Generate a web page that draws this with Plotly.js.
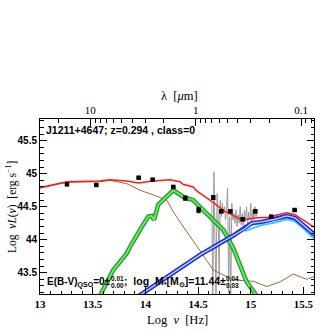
<!DOCTYPE html>
<html><head><meta charset="utf-8">
<script src="https://cdn.plot.ly/plotly-3.0.1.min.js"></script>
<style>html,body{margin:0;padding:0;background:#fff}#chart{width:332px;height:332px}</style>
</head><body><div id="chart"></div>
<script>
// Photometry (rest-frame log nu, log nuL)
const photNu  = [13.256, 13.534, 13.936, 14.069, 14.265, 14.379, 14.505, 14.644, 14.720, 14.806, 14.923, 15.043, 15.195, 15.416];
const photL   = [44.84, 44.83, 44.94, 44.91, 44.80, 44.63, 44.45, 44.64, 44.43, 44.43, 44.31, 44.43, 44.35, 44.45];
const photErr = [0.01, 0.01, 0.01, 0.01, 0.01, 0.03, 0.04, 0.03, 0.02, 0.02, 0.02, 0.02, 0.01, 0.01];

// Total model (red)
const totNu = [13.000, 13.256, 13.569, 13.664, 13.823, 13.936, 14.072, 14.233, 14.328, 14.357, 14.454, 14.487, 14.613, 14.755, 14.831, 14.913, 15.040, 15.166, 15.261, 15.341, 15.419, 15.514, 15.609];
const totL  = [44.79, 44.88, 44.89, 44.91, 44.89, 44.86, 44.89, 44.91, 44.88, 44.84, 44.80, 44.74, 44.60, 44.43, 44.37, 44.30, 44.33, 44.34, 44.38, 44.41, 44.38, 44.28, 44.18];

// Torus / other component (brown)
const torNu = [13.000, 13.256, 13.569, 13.664, 13.823, 13.949, 14.075, 14.202, 14.265, 14.360, 14.487, 14.582, 14.644, 14.834, 15.024, 15.151, 15.277, 15.403, 15.530, 15.600];
const torL  = [44.78, 44.87, 44.88, 44.90, 44.85, 44.75, 44.68, 44.60, 44.42, 44.20, 43.89, 43.69, 43.54, 43.39, 43.37, 43.29, 43.36, 43.48, 43.40, 43.44];

// Host galaxy (green)
const galNu = [13.569, 13.664, 13.695, 13.823, 13.854, 13.949, 14.027, 14.060, 14.082, 14.122, 14.170, 14.233, 14.265, 14.360, 14.454, 14.549, 14.644, 14.739, 14.834, 14.898, 14.961, 15.056];
const galL  = [43.15, 43.44, 43.54, 43.79, 43.89, 44.15, 44.35, 44.36, 44.30, 44.53, 44.61, 44.70, 44.75, 44.65, 44.60, 44.45, 44.30, 44.15, 43.87, 43.62, 43.36, 43.15];

// QSO disk (blue) and its lower envelope (cyan)
const qsoNu = [13.930, 14.297, 14.518, 14.831, 14.945, 15.009, 15.103, 15.230, 15.341, 15.419, 15.514, 15.609];
const qsoL  = [43.14, 43.53, 43.77, 44.06, 44.17, 44.25, 44.27, 44.31, 44.36, 44.33, 44.20, 44.07];
const qsoLoNu = [14.945, 15.103, 15.230, 15.341, 15.419, 15.514, 15.609];
const qsoLoL  = [44.13, 44.22, 44.26, 44.31, 44.28, 44.15, 44.00];

// Spectrum (gray)
const specNu = [14.63,14.64,14.65,14.66,14.67,14.68,14.69,14.70,14.71,14.72,14.73,14.74,14.75,14.76,14.77,14.78,14.79,14.80,14.81,14.82,14.83,14.84,14.85,14.86,14.87,14.88,14.89,14.90,14.91,14.92,14.93,14.94,14.95,14.96,14.97,14.98,14.99,15.00,15.01,15.02,15.03,15.04,15.05,15.06];
const specL  = [44.55,43.10,45.03,44.30,43.10,44.70,44.45,43.40,44.60,44.35,44.55,44.40,44.50,44.30,44.45,44.78,43.20,44.35,43.10,44.55,44.30,44.40,44.25,44.45,44.20,44.38,44.25,44.50,44.22,44.40,44.18,44.45,44.28,44.50,44.20,44.42,44.30,44.55,44.25,44.45,44.30,44.50,44.35,44.40];

// Top axis (wavelength in micron)
const lamMajor = [10, 1, 0.1];
const lamMajorText = ['10', '1', '0.1'];
const lamMinor = [20, 9, 8, 7, 6, 5, 4, 3, 2, 0.9, 0.8, 0.7, 0.6, 0.5, 0.4, 0.3, 0.2, 0.09, 0.08];
const xTicks = [13, 13.5, 14, 14.5, 15, 15.5];
const yTicks = [43.5, 44, 44.5, 45, 45.5];

// Fit result labels
const ebvVal = '0', ebvUp = '0.01', ebvLo = '0.00';
const mVal = '11.44', mUp = '0.04', mLo = '0.03';

const LOGC = Math.log10(2.998e14);
const toNu = l => LOGC - Math.log10(l);

const traces = [
  {x: specNu, y: specL, mode: 'lines', line: {color: '#9a9a9a', width: 1}, hoverinfo: 'skip'},
  {x: torNu, y: torL, mode: 'lines', line: {color: '#b0603a', width: 1}},
  {x: galNu, y: galL, mode: 'lines', line: {color: '#1f9a1f', width: 4.5}},
  {x: galNu, y: galL, mode: 'lines', line: {color: '#6ae46a', width: 2}},
  {x: qsoLoNu, y: qsoLoL, mode: 'lines', line: {color: '#38c8ff', width: 1.8}},
  {x: qsoNu, y: qsoL, mode: 'lines', line: {color: '#1a2ee6', width: 4.5}},
  {x: qsoNu, y: qsoL, mode: 'lines', line: {color: '#c8d6ff', width: 1.3}},
  {x: totNu, y: totL, mode: 'lines', line: {color: '#ff1a1a', width: 1.5}},
  {x: photNu, y: photL, mode: 'markers', marker: {color: '#000', size: 4.5, symbol: 'square'},
   error_y: {type: 'data', array: photErr, visible: true, color: '#000', thickness: 1, width: 2}},
  {x: [13, 15.6], y: [43, 43], xaxis: 'x2', mode: 'lines', line: {width: 0}, hoverinfo: 'skip'}
];

const W = 274, H = 175, L0 = 40, B0 = 294;
const px = v => (v - L0) / W;
const py = v => (B0 - v) / H;
const sans = 'Liberation Sans, Arial, sans-serif';
const serif = 'Liberation Serif, Times New Roman, serif';

// measure label widths (main text + 70% sub parts) for placing stacked errors
const cv = document.createElement('canvas').getContext('2d');
function meas(parts, size) {
  let w = 0;
  for (const [t, s] of parts) { cv.font = 'bold ' + (size * s) + 'px "Liberation Sans"'; w += cv.measureText(t).width; }
  return w;
}
const FS1 = 10, FS2 = 10.5;
const x1 = 45;
const w1 = meas([['E(B-V)', 1], ['QSO', 0.7], ['=' + ebvVal + '\u00b1', 1]], FS1);
const xs1 = x1 + w1 + 0.5;
const ws1 = meas([[ebvUp, 0.65]], FS1);
const x2 = xs1 + ws1 + 0.5;
const t2 = ';  log  M';
const w2 = meas([[t2, 1], ['*', 0.7], ['[M', 1], ['\u2299', 0.7], [']=' + mVal + '\u00b1', 1]], FS2);
const xs2 = x2 + w2 + 0.5;

const ann = (x, y, text, font, extra) => Object.assign({xref: 'paper', yref: 'paper', x: px(x), y: py(y),
  xanchor: 'left', yanchor: 'middle', showarrow: false, text: text, font: font}, extra || {});
const bf = s => ({family: sans, size: s, color: '#000', weight: 'bold'});

const layout = {
  width: 332, height: 332,
  margin: {l: 40, r: 18, t: 119, b: 38},
  paper_bgcolor: '#fff', plot_bgcolor: '#fff',
  showlegend: false,
  xaxis: {
    range: [13, 15.6], showgrid: false, zeroline: false, showline: true, linecolor: '#000', linewidth: 1,
    ticks: 'inside', ticklen: 7, tickcolor: '#000', tickvals: xTicks, ticktext: xTicks.map(String),
    minor: {dtick: 0.1, tick0: 13, ticks: 'inside', ticklen: 3.5, tickcolor: '#000'},
    tickfont: {family: serif, size: 11, color: '#000', weight: 'bold'}, mirror: false
  },
  xaxis2: {
    overlaying: 'x', side: 'top', range: [13, 15.6], showgrid: false, zeroline: false,
    showline: true, linecolor: '#000', linewidth: 1,
    ticks: 'inside', ticklen: 7, tickcolor: '#000',
    tickvals: lamMajor.map(toNu), ticktext: lamMajorText,
    minor: {tickvals: lamMinor.map(toNu), ticks: 'inside', ticklen: 3.5, tickcolor: '#000'},
    tickfont: {family: serif, size: 11, color: '#000'}
  },
  yaxis: {
    range: [43.177, 45.83], showgrid: false, zeroline: false, showline: true, linecolor: '#000', linewidth: 1,
    mirror: 'ticks', ticks: 'inside', ticklen: 7, tickcolor: '#000',
    tickvals: yTicks, ticktext: yTicks.map(String),
    minor: {dtick: 0.1, tick0: 43.5, ticks: 'inside', ticklen: 3.5, tickcolor: '#000'},
    tickfont: {family: sans, size: 10, color: '#000', weight: 'bold'}
  },
  annotations: [
    ann(44, 130, 'J1211+4647; z=0.294 , class=0', bf(10.5)),
    ann(x1, 282, 'E(B-V)<sub>QSO</sub>=' + ebvVal + '\u00b1', bf(FS1)),
    ann(xs1, 278.5, ebvUp, bf(6.5)),
    ann(xs1, 285.5, ebvLo, bf(6.5)),
    ann(x2, 282, t2 + '<sub>*</sub>[M<sub>\u2299</sub>]=' + mVal + '\u00b1', bf(FS2)),
    ann(xs2, 278.5, mUp, bf(6.5)),
    ann(xs2, 285.5, mLo, bf(6.5)),
    ann(177, 320, 'Log  <i>\u03bd</i>  [Hz]', {family: serif, size: 12.5, color: '#000'}, {xanchor: 'center'}),
    ann(179, 96, '\u03bb  [<i>\u03bc</i>m]', {family: serif, size: 12.5, color: '#000'}, {xanchor: 'center'}),
    ann(11, 207, 'Log  <i>\u03bdL</i>(<i>\u03bd</i>)  [erg s<sup>\u22121</sup>]', {family: serif, size: 11.5, color: '#000'},
        {xanchor: 'center', textangle: -90})
  ]
};

Plotly.newPlot('chart', traces, layout, {staticPlot: true, displayModeBar: false});
</script></body></html>
